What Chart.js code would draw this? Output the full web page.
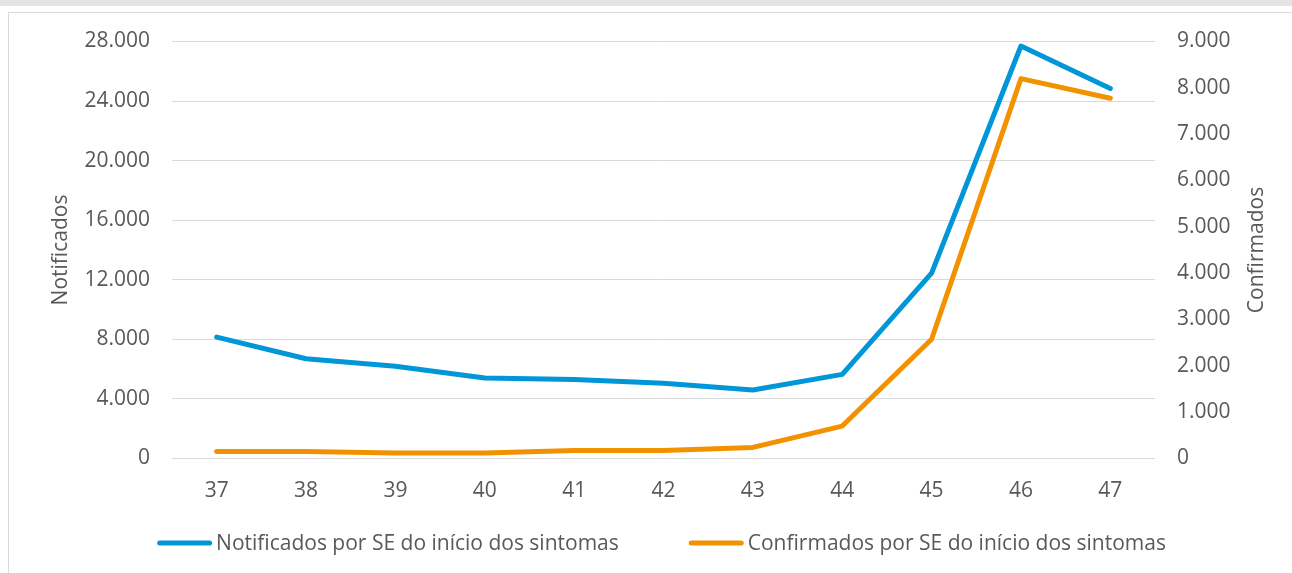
<!DOCTYPE html>
<html>
<head>
<meta charset="utf-8">
<script src="https://cdn.jsdelivr.net/npm/chart.js@4/dist/chart.umd.min.js"></script>
<style>
  html, body { margin: 0; padding: 0; background: #ffffff; }
  body { width: 1292px; height: 573px; position: relative; overflow: hidden; }
  #band { position: absolute; left: 0; top: 0; width: 1292px; height: 6px; background: #e4e4e4; }
  #frame { position: absolute; left: 8px; top: 12px; width: 1400px; height: 700px; border: 1px solid #d9d9d9; box-sizing: border-box; }
  #wrap { position: absolute; left: 0; top: 0; width: 1292px; height: 573px; }
</style>
</head>
<body>
<div id="band"></div>
<div id="frame"></div>
<div id="wrap"><canvas id="c" width="1292" height="573"></canvas></div>
<script>
const categories = ['37', '38', '39', '40', '41', '42', '43', '44', '45', '46', '47'];
const notificados = [8150, 6700, 6200, 5400, 5300, 5050, 4600, 5650, 12450, 27700, 24850];
const confirmados = [150, 150, 120, 120, 175, 170, 240, 700, 2575, 8200, 7775];
const seriesNames = ['Notificados por SE do início dos sintomas', 'Confirmados por SE do início dos sintomas'];
const leftTitle = 'Notificados';
const rightTitle = 'Confirmados';

const BLUE = '#0096D8';
const ORANGE = '#F39200';
const TEXT = '#595959';
const FONT = '"Open Sans", sans-serif';
const FS = 21;

function fmt(v) {
  return String(v).replace(/\B(?=(\d{3})+(?!\d))/g, '.');
}

// Draws the right axis title (reading bottom-to-top) and the legend below the x axis.
const extras = {
  id: 'extras',
  afterDraw(chart) {
    const ctx = chart.ctx;
    const ca = chart.chartArea;
    const y1 = chart.scales.y1;
    ctx.save();
    ctx.fillStyle = TEXT;
    ctx.font = FS + 'px ' + FONT;
    ctx.textAlign = 'center';
    ctx.textBaseline = 'middle';
    ctx.translate(y1.right - 20, (ca.top + ca.bottom) / 2);
    ctx.rotate(-Math.PI / 2);
    ctx.fillText(rightTitle, 0, 0);
    ctx.restore();

    // legend
    ctx.save();
    ctx.font = FS + 'px ' + FONT;
    ctx.textBaseline = 'middle';
    ctx.textAlign = 'left';
    const boxW = 55, gapText = 4, gapItems = 70;
    const items = chart.data.datasets.map(ds => ({ text: ds.label, color: ds.borderColor, w: ctx.measureText(ds.label).width }));
    const total = items.reduce((a, it) => a + boxW + gapText + it.w, 0) + gapItems * (items.length - 1);
    let x = (ca.left + ca.right) / 2 - 2 - total / 2;
    const ly = 543;
    items.forEach(it => {
      ctx.strokeStyle = it.color;
      ctx.lineWidth = 5;
      ctx.lineCap = 'round';
      ctx.beginPath();
      ctx.moveTo(x + 2.5, ly);
      ctx.lineTo(x + boxW - 2.5, ly);
      ctx.stroke();
      ctx.fillStyle = TEXT;
      ctx.fillText(it.text, x + boxW + gapText, ly + 1);
      x += boxW + gapText + it.w + gapItems;
    });
    ctx.restore();
  }
};

new Chart(document.getElementById('c'), {
  type: 'line',
  data: {
    labels: categories,
    datasets: [
      { label: seriesNames[0], data: notificados, yAxisID: 'y', borderColor: BLUE, backgroundColor: BLUE,
        borderWidth: 5, pointRadius: 0, tension: 0, borderCapStyle: 'round', borderJoinStyle: 'round' },
      { label: seriesNames[1], data: confirmados, yAxisID: 'y1', borderColor: ORANGE, backgroundColor: ORANGE,
        borderWidth: 5, pointRadius: 0, tension: 0, borderCapStyle: 'round', borderJoinStyle: 'round' }
    ]
  },
  options: {
    responsive: false,
    animation: false,
    layout: { padding: { left: 40, right: 15, top: 41.5, bottom: 61 } },
    plugins: {
      tooltip: { enabled: false },
      legend: { display: false }
    },
    scales: {
      x: {
        offset: true,
        grid: { display: false, drawTicks: false },
        border: { display: false },
        ticks: { color: TEXT, font: { family: FONT, size: FS }, padding: 20, maxRotation: 0 },
        afterFit: (s) => { s.height = 53.5; }
      },
      y: {
        position: 'left',
        min: 0, max: 28000,
        ticks: { stepSize: 4000, color: TEXT, font: { family: FONT, size: FS }, padding: 22, callback: (v) => fmt(v) },
        grid: { color: '#d9d9d9', lineWidth: 1, drawTicks: false },
        border: { display: false },
        title: { display: true, text: leftTitle, color: TEXT, font: { family: FONT, size: FS }, padding: { top: 8, bottom: 0 } },
        afterFit: (s) => { s.width = 132; }
      },
      y1: {
        position: 'right',
        min: 0, max: 9000,
        ticks: { stepSize: 1000, color: TEXT, font: { family: FONT, size: FS }, padding: 22, callback: (v) => fmt(v) },
        grid: { display: false, drawTicks: false },
        border: { display: false },
        afterFit: (s) => { s.width = 122; }
      }
    }
  },
  plugins: [extras]
});
</script>
</body>
</html>
